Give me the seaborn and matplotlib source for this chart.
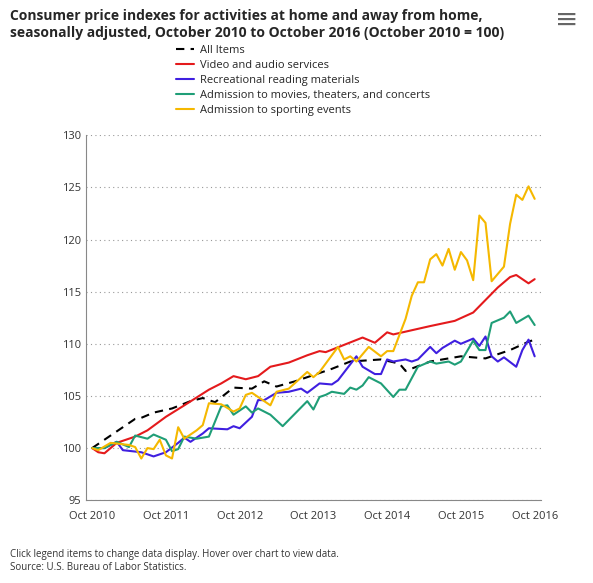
import pandas as pd
import matplotlib
matplotlib.use('Agg')
import matplotlib.pyplot as plt
import seaborn as sns

# months since Oct 2010, index value
all_m = [0, 6, 7, 8, 10, 13, 16, 18, 20, 23, 26, 28, 30, 33, 36, 39, 42, 47, 50, 51, 55, 60, 64, 68, 71, 72]
all_v = [100, 102.4, 102.8, 102.9, 103.4, 103.8, 104.5, 104.8, 104.4, 105.8, 105.7, 106.4, 105.9, 106.4, 107.0,
         107.6, 108.3, 108.5, 108.1, 107.4, 108.3, 108.8, 108.6, 109.4, 110.2, 110.4]

video_m = [0, 1, 2, 4, 7, 9, 12, 15, 19, 21, 23, 25, 27, 29, 32, 35, 37, 38, 44, 46, 48, 49, 55, 59, 62, 65,
           66, 68, 69, 71, 72]
video_v = [100, 99.6, 99.5, 100.5, 101.1, 101.7, 103, 104.1, 105.6, 106.2, 106.9, 106.6, 106.9, 107.8, 108.2,
           108.9, 109.3, 109.2, 110.6, 110.1, 111.1, 110.9, 111.7, 112.2, 113.0, 114.8, 115.4, 116.4, 116.6,
           115.8, 116.2]

reading_m = [0, 2, 4, 5, 8, 10, 12, 14, 15, 16, 18, 19, 22, 23, 24, 26, 27, 28, 30, 32, 34, 35, 37, 39, 40,
             43, 44, 46, 47, 48, 49, 51, 52, 53, 55, 56, 57, 59, 60, 62, 63, 64, 65, 66, 67, 69, 70, 71, 72]
reading_v = [100, 100, 100.6, 99.8, 99.6, 99.2, 99.6, 100.5, 101, 100.6, 101.4, 101.9, 101.8, 102.1, 101.9,
             103, 104.6, 104.6, 105.3, 105.4, 105.7, 105.3, 106.2, 106.1, 106.5, 108.8, 107.8, 107.1, 107.1,
             108.5, 108.3, 108.5, 108.3, 108.5, 109.7, 109.1, 109.6, 110.3, 110.0, 110.5, 109.8, 110.7, 108.8,
             108.3, 108.7, 107.8, 109.4, 110.4, 108.8]

movies_m = [0, 2, 4, 6, 7, 9, 10, 12, 13, 14, 15, 17, 19, 21, 22, 23, 25, 26, 27, 29, 31, 33, 35, 36, 37, 38,
            39, 41, 42, 43, 44, 45, 47, 49, 50, 51, 53, 55, 56, 58, 59, 60, 62, 63, 64, 65, 67, 68, 69, 71, 72]
movies_v = [100, 100, 100.6, 100.1, 101.2, 100.9, 101.3, 100.8, 99.7, 99.9, 101.1, 100.9, 101.1, 104, 104.1,
            103.2, 104, 103.4, 103.8, 103.2, 102.1, 103.3, 104.5, 103.7, 104.9, 105.1, 105.4, 105.2, 105.8,
            105.6, 106, 106.8, 106.2, 104.9, 105.6, 105.6, 107.8, 108.3, 108.1, 108.3, 108, 108.3, 110.3,
            109.4, 109.4, 112, 112.5, 113.1, 112, 112.7, 111.8]

sports_m = [0, 1, 3, 6, 7, 8, 9, 10, 11, 12, 13, 14, 15, 17, 18, 19, 21, 23, 24, 25, 26, 29, 30, 32, 35, 36,
            37, 40, 41, 42, 43, 45, 47, 48, 49, 51, 52, 53, 54, 55, 56, 57, 58, 59, 60, 61, 62, 63, 64, 65, 67,
            68, 69, 70, 71, 72]
sports_v = [100, 99.8, 100.5, 100.3, 100.1, 99, 100, 99.9, 100.8, 99.3, 99, 102, 100.9, 101.7, 102.2, 104.3,
            104.2, 103.5, 103.8, 105.1, 105.3, 104.1, 105.4, 105.7, 107.3, 106.8, 107.3, 109.7, 108.5, 108.8,
            108.3, 109.7, 108.8, 109.3, 109.3, 112.4, 114.6, 115.9, 115.9, 118.1, 118.6, 117.5, 119.1, 117.1,
            118.8, 118.0, 116.1, 122.3, 121.6, 116.0, 117.4, 121.5, 124.3, 123.8, 125.1, 123.9]

series = [
    ('All Items', all_m, all_v, '#000000'),
    ('Video and audio services', video_m, video_v, '#e41a1c'),
    ('Recreational reading materials', reading_m, reading_v, '#3f1fe0'),
    ('Admission to movies, theaters, and concerts', movies_m, movies_v, '#1f9e77'),
    ('Admission to sporting events', sports_m, sports_v, '#f5b800'),
]

tick_pos = [0, 12, 24, 36, 48, 60, 72]
tick_lab = ['Oct 2010', 'Oct 2011', 'Oct 2012', 'Oct 2013', 'Oct 2014', 'Oct 2015', 'Oct 2016']

sns.set_style('white')
plt.rcParams['font.family'] = ['Open Sans', 'DejaVu Sans']

fig = plt.figure(figsize=(5.93, 5.83), dpi=100)
ax = fig.add_axes([0.145, 0.142, 0.767, 0.626])

frames = []
for name, m, v, c in series:
    frames.append(pd.DataFrame({'month': m, 'value': v, 'series': name}))
df = pd.concat(frames)
palette = {name: c for name, m, v, c in series}

sns.lineplot(data=df, x='month', y='value', hue='series', palette=palette, linewidth=1.5, ax=ax, legend=False)
ax.lines[0].set_linestyle((0, (4, 3)))

ax.set_xlim(-1, 73)
ax.set_ylim(95, 130)
ax.set_yticks(range(95, 131, 5))
ax.set_xticks(tick_pos)
ax.set_xticklabels(tick_lab)
ax.tick_params(labelsize=8, colors='#333333', length=0)
ax.tick_params(axis='x', length=4, color='#888888')
ax.set_xlabel('')
ax.set_ylabel('')
ax.grid(axis='y', linestyle=(0, (1, 3)), color='#999999', linewidth=0.8)
for s in ['top', 'right']:
    ax.spines[s].set_visible(False)
ax.spines['left'].set_color('#888888')
ax.spines['bottom'].set_color('#888888')

fig.text(0.017, 0.985, 'Consumer price indexes for activities at home and away from home,\n'
         'seasonally adjusted, October 2010 to October 2016 (October 2010 = 100)',
         fontsize=10, fontweight='bold', va='top', ha='left', linespacing=1.3)
fig.text(0.955, 0.965, '\u2261', fontsize=20, color='#666666', ha='center', va='center')

handles = []
for name, m, v, c in series:
    ls = (0, (4, 3)) if name == 'All Items' else '-'
    handles.append(plt.Line2D([], [], color=c, lw=1.5, ls=ls, label=name))
fig.legend(handles=handles, loc='upper left', bbox_to_anchor=(0.29, 0.93), frameon=False,
           fontsize=8, handlelength=1.6, labelspacing=0.35, borderaxespad=0, handletextpad=0.5)

fig.text(0.017, 0.045, 'Click legend items to change data display. Hover over chart to view data.',
         fontsize=7, color='#333333')
fig.text(0.017, 0.022, 'Source: U.S. Bureau of Labor Statistics.', fontsize=7, color='#333333')

fig.savefig('out.png', dpi=100)
